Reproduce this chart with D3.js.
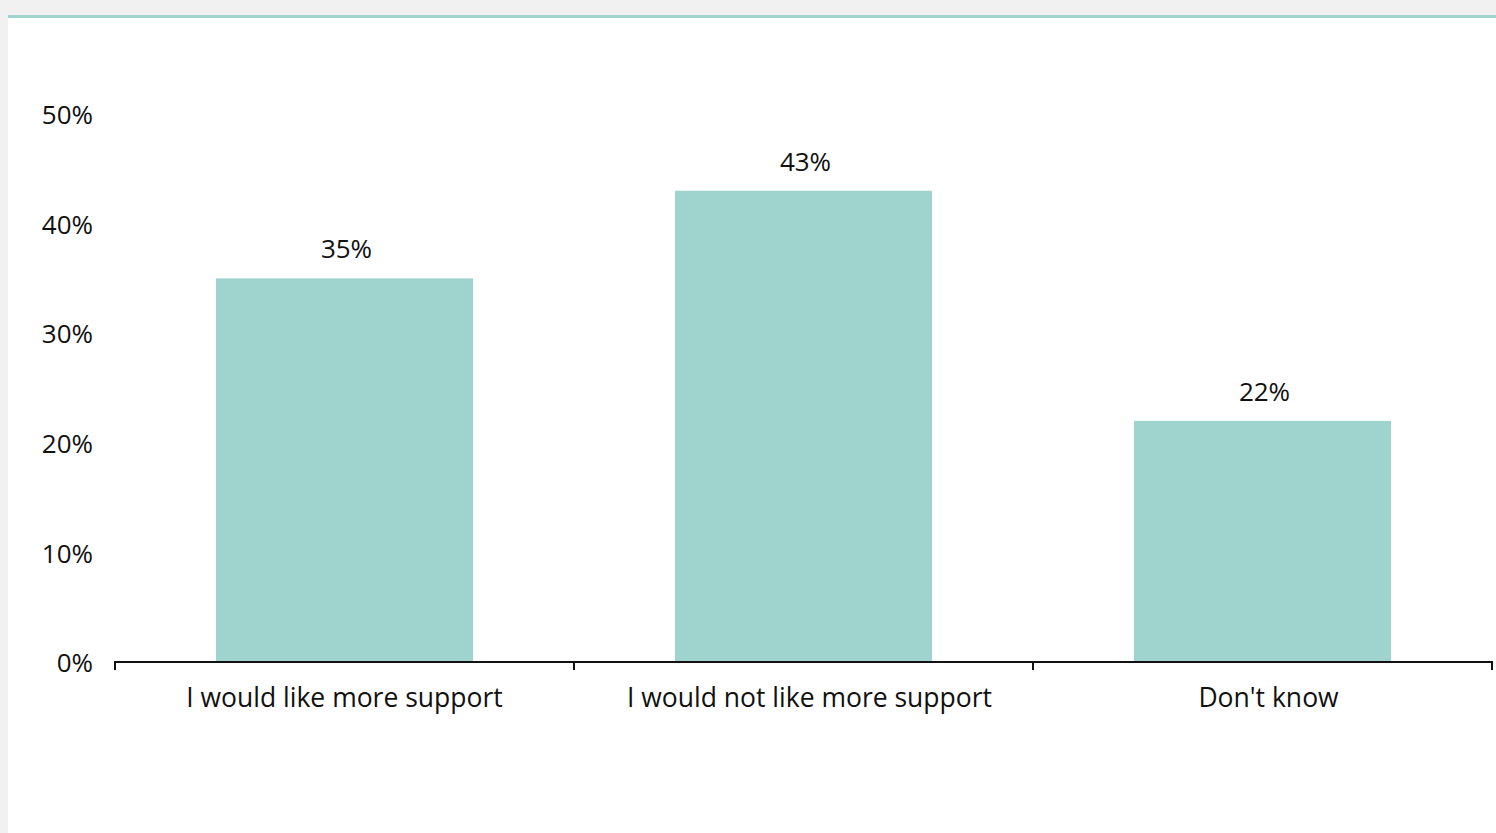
<!DOCTYPE html>
<html><head><meta charset="utf-8">
<script src="https://cdn.jsdelivr.net/npm/d3@7"></script>
<style>
html,body{margin:0;padding:0;background:#f1f1f1;}
svg{display:block;font-family:"Open Sans",sans-serif;}
</style></head>
<body>
<svg id="chart" width="1496" height="833"></svg>
<script>
const categories = ["I would like more support", "I would not like more support", "Don't know"];
const values = [35, 43, 22];
const yTicks = [0, 10, 20, 30, 40, 50];

const svg = d3.select("#chart");
svg.append("rect").attr("x", 8).attr("y", 17).attr("width", 1488).attr("height", 816).attr("fill", "#fff");
svg.append("rect").attr("x", 8).attr("y", 15).attr("width", 1488).attr("height", 3).attr("fill", "#9ed3ce");

const x = d3.scaleBand().domain(categories).range([115, 1492]).paddingInner(0.44).paddingOuter(0.22);
const y = d3.scaleLinear().domain([0, 50]).range([662, 114]);

// bars
svg.selectAll("rect.bar").data(values).join("rect").attr("class", "bar")
  .attr("x", (d, i) => x(categories[i]))
  .attr("width", x.bandwidth())
  .attr("y", d => y(d))
  .attr("height", d => y(0) - y(d))
  .attr("fill", "#9ed3ce");

// value labels
svg.selectAll("text.val").data(values).join("text").attr("class", "val")
  .attr("x", (d, i) => x(categories[i]) + x.bandwidth() / 2 + 2)
  .attr("y", d => y(d) - 20)
  .attr("text-anchor", "middle")
  .attr("font-size", 26).attr("fill", "#111")
  .text(d => d + "%");

// y axis labels
svg.selectAll("text.yt").data(yTicks).join("text").attr("class", "yt")
  .attr("x", 93).attr("y", d => y(d) + 1).attr("dy", "0.35em")
  .attr("text-anchor", "end").attr("font-size", 26).attr("fill", "#111")
  .text(d => d + "%");

// x axis
const outer = d3.scaleBand().domain(categories).range([115, 1492]);
const xAxis = d3.axisBottom(outer).tickSize(0).tickPadding(0);
const gx = svg.append("g").attr("transform", `translate(0,${y(0)})`).call(xAxis);
gx.select(".domain").attr("stroke", "#111").attr("stroke-width", 2).attr("d", "M115,8V0H1492V8");
gx.selectAll(".tick text").attr("font-size", 26.5).attr("fill", "#111").attr("font-family", "Open Sans").attr("y", 45).attr("dy", "0").attr("dx", (d, i) => i === 0 ? 0 : 6);
const edges = [1, 2].map(i => outer(categories[i]));
gx.selectAll("line.sep").data(edges).join("line").attr("class", "sep")
  .attr("x1", d => d).attr("x2", d => d).attr("y1", 0).attr("y2", 8)
  .attr("stroke", "#111").attr("stroke-width", 2);
</script>
</body></html>
